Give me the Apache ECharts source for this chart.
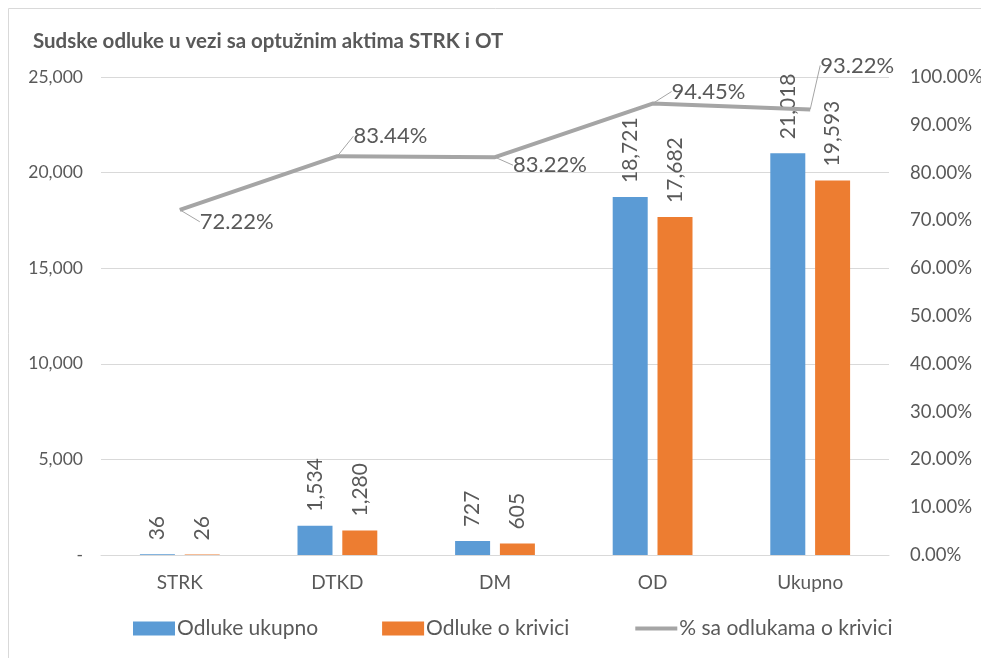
<!DOCTYPE html>
<html><head><meta charset="utf-8">
<script src="https://cdn.jsdelivr.net/npm/echarts@6/dist/echarts.min.js"></script>
<style>html,body{margin:0;padding:0;background:#fff}#c{width:981px;height:658px}</style>
</head><body><div id="c"></div>
<script>
const categories = ['STRK', 'DTKD', 'DM', 'OD', 'Ukupno'];
const odlukeUkupno = [36, 1534, 727, 18721, 21018];
const odlukeKrivici = [26, 1280, 605, 17682, 19593];
const procenat = [0.7222, 0.8344, 0.8322, 0.9445, 0.9322];
const seriesNames = ['Odluke ukupno', 'Odluke o krivici', '% sa odlukama o krivici'];
const titleText = 'Sudske odluke u vezi sa optužnim aktima STRK i OT';
const lineLabelShift = [[15, 12], [11, -20], [13, 8], [14, -12], [5, -44]];

const FONT = 'Lato, "Open Sans", sans-serif';
const TXT = '#595959';
const chart = echarts.init(document.getElementById('c'), null, {renderer: 'canvas'});
chart.setOption({
  animation: false,
  textStyle: {fontFamily: FONT},
  graphic: [{type: 'rect', shape: {x: 8.5, y: 8.5, width: 1000, height: 700}, style: {fill: 'none', stroke: '#D9D9D9', lineWidth: 1}, silent: true}],
  title: {text: titleText, left: 28, top: 26, textStyle: {fontFamily: FONT, fontSize: 20.5, fontWeight: 'bold', color: TXT}},
  legend: {
    bottom: 14, left: 128, itemGap: 64, itemWidth: 42, itemHeight: 14,
    textStyle: {fontFamily: FONT, fontSize: 21, color: TXT, padding: [0, 0, 0, -3]},
    data: [
      {name: seriesNames[0], icon: 'rect'},
      {name: seriesNames[1], icon: 'rect'},
      {name: seriesNames[2], itemStyle: {opacity: 0}, lineStyle: {width: 4, color: '#A5A5A5'}}
    ]
  },
  grid: {left: 101, right: 92, top: 77, bottom: 103, containLabel: false, outerBoundsMode: 'none'},
  xAxis: {
    type: 'category', data: categories,
    axisLine: {lineStyle: {color: '#D9D9D9'}}, axisTick: {show: false},
    axisLabel: {fontFamily: FONT, fontSize: 19, color: TXT, margin: 18}
  },
  yAxis: [
    {type: 'value', min: 0, max: 25000, interval: 5000,
     axisLine: {show: false}, axisTick: {show: false},
     splitLine: {lineStyle: {color: '#D9D9D9'}},
     axisLabel: {fontFamily: FONT, fontSize: 17.5, color: TXT, margin: 18,
       formatter: v => v === 0 ? '-' : v.toLocaleString('en-US')}},
    {type: 'value', min: 0, max: 1, interval: 0.1,
     axisLine: {show: false}, axisTick: {show: false}, splitLine: {show: false},
     axisLabel: {fontFamily: FONT, fontSize: 18.5, color: TXT, margin: 21,
       formatter: v => (v * 100).toFixed(2) + '%'}}
  ],
  series: [
    {name: seriesNames[0], type: 'bar', data: odlukeUkupno, barWidth: 35, barGap: '28%',
     itemStyle: {color: '#5B9BD5'},
     label: {show: true, position: 'top', rotate: 90, align: 'left', verticalAlign: 'middle', distance: 14,
       fontFamily: FONT, fontSize: 21, color: TXT, formatter: p => p.value.toLocaleString('en-US')}},
    {name: seriesNames[1], type: 'bar', data: odlukeKrivici, barWidth: 35,
     itemStyle: {color: '#ED7D31'},
     label: {show: true, position: 'top', rotate: 90, align: 'left', verticalAlign: 'middle', distance: 14,
       fontFamily: FONT, fontSize: 21, color: TXT, formatter: p => p.value.toLocaleString('en-US')}},
    {name: seriesNames[2], type: 'line', yAxisIndex: 1, data: procenat,
     symbol: 'circle', symbolSize: 0.01, showSymbol: true,
     lineStyle: {color: '#A5A5A5', width: 4}, itemStyle: {color: '#A5A5A5'},
     label: {show: true, position: 'right', distance: 5, fontFamily: FONT, fontSize: 22, color: TXT,
       formatter: p => (p.value * 100).toFixed(2) + '%'},
     labelLine: {show: true, lineStyle: {color: '#A5A5A5', width: 1}},
     labelLayout: p => ({dx: lineLabelShift[p.dataIndex][0], dy: lineLabelShift[p.dataIndex][1]})}
  ]
});
</script></body></html>
